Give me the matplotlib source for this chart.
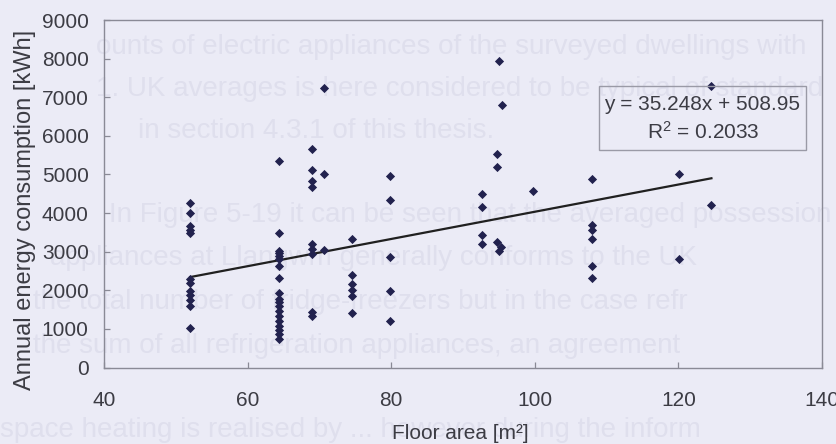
import matplotlib
matplotlib.use("Agg")
import matplotlib.pyplot as plt
import numpy as np
from matplotlib.patches import Rectangle

plt.rcParams['font.family'] = ['Liberation Sans', 'DejaVu Sans']
plt.rcParams['mathtext.fontset'] = 'custom'
plt.rcParams['mathtext.rm'] = 'Liberation Sans'
plt.rcParams['mathtext.it'] = 'Liberation Sans:italic'

# Surveyed dwellings: floor area [m2] and annual electricity use [kWh]
floor_area = [
    52, 52, 52, 52, 52, 52, 52, 52, 52, 52, 52, 52,
    64.4, 64.4, 64.4, 64.4, 64.4, 64.4, 64.4, 64.4, 64.4, 64.4,
    64.4, 64.4, 64.4, 64.4, 64.4, 64.4, 64.4, 64.4, 64.4,
    68.9, 68.9, 68.9, 68.9, 68.9, 68.9, 68.9, 68.9, 68.9,
    70.6, 70.6, 70.6,
    74.5, 74.5, 74.5, 74.5, 74.5, 74.5,
    79.9, 79.9, 79.9, 79.9, 79.9,
    92.7, 92.7, 92.7, 92.7,
    94.7, 94.7, 94.7,
    95.0, 95.4, 95.3, 95.0,
    99.8,
    107.9, 107.9, 107.9, 107.9, 107.9, 107.9,
    120.1, 120.1,
    124.6, 124.6,
]
consumption = [
    4250, 3990, 3660, 3560, 3480, 2300, 2200, 1980, 1890, 1760, 1590, 1020,
    5350, 3480, 3030, 2960, 2890, 2800, 2620, 2320, 1940, 1780,
    1700, 1600, 1470, 1340, 1210, 1080, 960, 860, 750,
    5670, 5110, 4840, 4680, 3210, 3060, 2930, 1430, 1340,
    7250, 5020, 3040,
    3340, 2400, 2160, 2010, 1850, 1400,
    4950, 4330, 2860, 1990, 1210,
    4500, 4160, 3420, 3210,
    5520, 5190, 3260,
    7930, 6800, 3130, 3010,
    4560,
    4870, 3700, 3570, 3330, 2640, 2310,
    5010, 2820,
    7300, 4200,
]

# Linear trend as reported on the chart
slope = 35.248
intercept = 508.95
r_squared = 0.2033

x_ticks = [40, 60, 80, 100, 120, 140]
y_ticks = [0, 1000, 2000, 3000, 4000, 5000, 6000, 7000, 8000, 9000]

# Faint text showing through from the reverse of the printed page
page_lines = [
    (0.115, 47, "ounts of electric appliances of the surveyed dwellings with"),
    (0.115, 89, "1. UK averages is here considered to be typical of standard"),
    (0.165, 131, "in section 4.3.1 of this thesis."),
    (0.13, 215, "In Figure 5-19 it can be seen that the averaged possession"),
    (0.06, 258, "appliances at Llangwm generally conforms to the UK"),
    (0.04, 302, "the total number of fridge-freezers but in the case refr"),
    (0.04, 346, "the sum of all refrigeration appliances, an agreement"),
    (0.0, 430, "space heating is realised by ... however during the inform"),
]

W, H = 836, 444
bg = '#ebebf6'
ink = '#3c3c44'
frame = '#8a8a96'

fig = plt.figure(figsize=(W / 100, H / 100), dpi=100, facecolor=bg)

for fx, py, txt in page_lines:
    fig.text(fx, 1 - py / H, txt, fontsize=20, color='#dfdfed',
             va='center', ha='left', zorder=-5)

ax = fig.add_axes([104 / W, 1 - 367.5 / H, (822 - 104) / W, (367.5 - 20) / H])
ax.set_facecolor('none')

ax.scatter(floor_area, consumption, marker='D', s=22, color='#22224e',
           linewidths=0, zorder=3)

xs = np.array([min(floor_area), max(floor_area)])
ax.plot(xs, slope * xs + intercept, color='#202020', lw=1.6, zorder=2)

ax.set_xlim(40, 140)
ax.set_ylim(0, 9000)
ax.set_xticks(x_ticks)
ax.set_yticks(y_ticks)
ax.tick_params(axis='x', direction='in', length=4, width=0.9, color=frame,
               labelsize=15, labelcolor=ink, pad=17, top=False)
ax.tick_params(axis='y', direction='in', length=4, width=0.9, color=frame,
               labelsize=15, labelcolor=ink, pad=11, right=False)
for sp in ax.spines.values():
    sp.set_color(frame)
    sp.set_linewidth(1.0)

fig.text(25 / W, 1 - 210 / H, 'Annual energy consumption [kWh]', rotation=90,
         fontsize=17, color=ink, ha='center', va='center')
fig.text(460 / W, 1 - 433 / H, 'Floor area [m\u00b2]', fontsize=15,
         color=ink, ha='center', va='center')

# Equation box
bx0, bx1, by0, by1 = 598.7, 806, 85.7, 150
fig.patches.append(Rectangle((bx0 / W, 1 - by1 / H), (bx1 - bx0) / W,
                             (by1 - by0) / H, transform=fig.transFigure,
                             facecolor='none', edgecolor='#9a9aa6', lw=1.0,
                             zorder=1))
fig.text(702.5 / W, 1 - 105 / H, f'y = {slope}x + {intercept}', fontsize=15,
         color=ink, ha='center', va='center')
fig.text(703 / W, 1 - 132 / H, f'R$^2$ = {r_squared}', fontsize=15,
         color=ink, ha='center', va='center')

fig.savefig('out.png', dpi=100, facecolor=bg)
